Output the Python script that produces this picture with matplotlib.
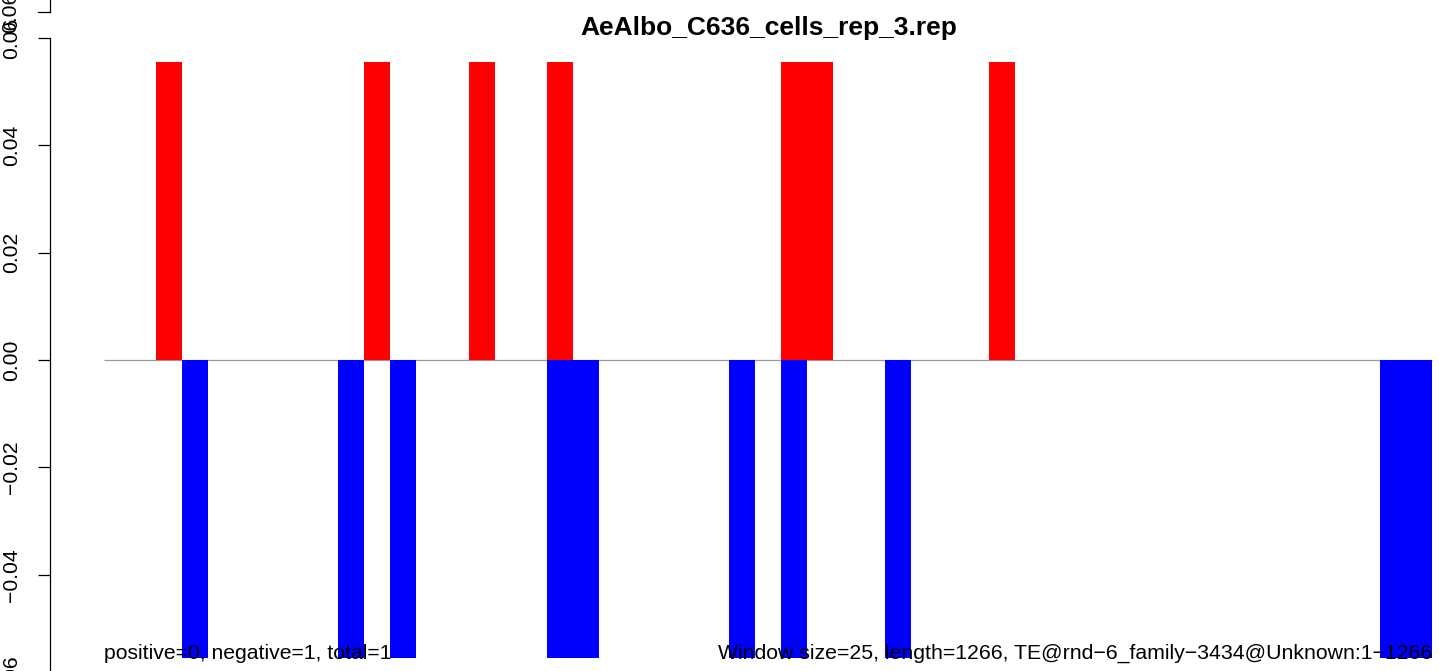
import matplotlib
matplotlib.use("Agg")
import matplotlib.pyplot as plt
from matplotlib.transforms import blended_transform_factory

plt.rcParams['font.family'] = ['Liberation Sans', 'DejaVu Sans']

# ---- data ----
title = "AeAlbo_C636_cells_rep_3.rep"
n_windows = 51
pos_windows = [2, 10, 14, 17, 26, 27, 34]
pos_values = [0.0556, 0.0556, 0.0556, 0.0556, 0.0556, 0.0556, 0.0556]
neg_windows = [3, 9, 11, 17, 18, 24, 26, 30, 49, 50]
neg_values = [-0.0556, -0.0556, -0.0556, -0.0556, -0.0556,
              -0.0556, -0.0556, -0.0556, -0.0556, -0.0556]
ytick_values = [-0.06, -0.04, -0.02, 0.00, 0.02, 0.04, 0.06]
ytick_labels = ["\u22120.06", "\u22120.04", "\u22120.02", "0.00", "0.02", "0.04", "0.06"]
extra_tick_value = 0.0649
extra_tick_label = "0.06"
left_note = "positive=0, negative=1, total=1"
right_note = "Window size=25, length=1266, TE@rnd\u22126_family\u22123434@Unknown:1\u22121266"

# ---- layout ----
W, H = 1439, 671
fig = plt.figure(figsize=(W / 100, H / 100), dpi=100)
ax_l, ax_r, ax_t, ax_b = 50, 1439, 0, 700
ax = fig.add_axes([ax_l / W, (H - ax_b) / H, (ax_r - ax_l) / W, (ax_b - ax_t) / H])

px_per_unit = 5365.0
zero_px = 360.1
bar_px = 26.04
origin_px = 104
ax.set_ylim((zero_px - ax_b) / px_per_unit, (zero_px - ax_t) / px_per_unit)
ax.set_xlim((ax_l - origin_px) / bar_px, (ax_r - origin_px) / bar_px)

# zero line
ax.hlines(0, 0, n_windows, color='#9a9a9a', lw=0.9, zorder=1)

# bars
ax.bar(pos_windows, pos_values, width=1, align='edge', color='#FF0000', linewidth=0, zorder=2)
ax.bar(neg_windows, neg_values, width=1, align='edge', color='#0000FF', linewidth=0, zorder=2)

# axes styling
for s in ['top', 'right', 'bottom']:
    ax.spines[s].set_visible(False)
ax.spines['left'].set_bounds(-0.06, 0.06)
ax.spines['left'].set_linewidth(0.9)
ax.set_xticks([])
ax.set_yticks(ytick_values)
ax.set_yticklabels(ytick_labels, rotation=90, va='center', fontsize=15.2)
ax.tick_params(axis='y', length=8.6, width=0.9, pad=12.5, direction='out')

# extra axis fragment at the top
bt = blended_transform_factory(ax.transAxes, ax.transData)
xfrac_tick = -12 / (ax_r - ax_l)
ytop = (zero_px - ax_t) / px_per_unit
ax.plot([0, 0], [extra_tick_value, ytop], color='black', lw=0.9, transform=bt, clip_on=False)
ax.plot([xfrac_tick, 0], [extra_tick_value, extra_tick_value], color='black', lw=0.9,
        transform=bt, clip_on=False)
ax.text((20.5 - ax_l) / (ax_r - ax_l), extra_tick_value, extra_tick_label, rotation=90,
        ha='right', va='center', fontsize=15.2, transform=bt, clip_on=False)

# title
fig.text(768.5 / W, 1 - 35 / H, title, ha='center', va='baseline', fontsize=19, weight='bold')

# notes (on top of bars)
note_y = (zero_px - 659) / px_per_unit
ax.text(0, note_y, left_note, ha='left', va='baseline', fontsize=15.2, zorder=5)
ax.text(n_windows, note_y, right_note, ha='right', va='baseline', fontsize=15.3, zorder=5)

fig.savefig("out.png", dpi=100)
